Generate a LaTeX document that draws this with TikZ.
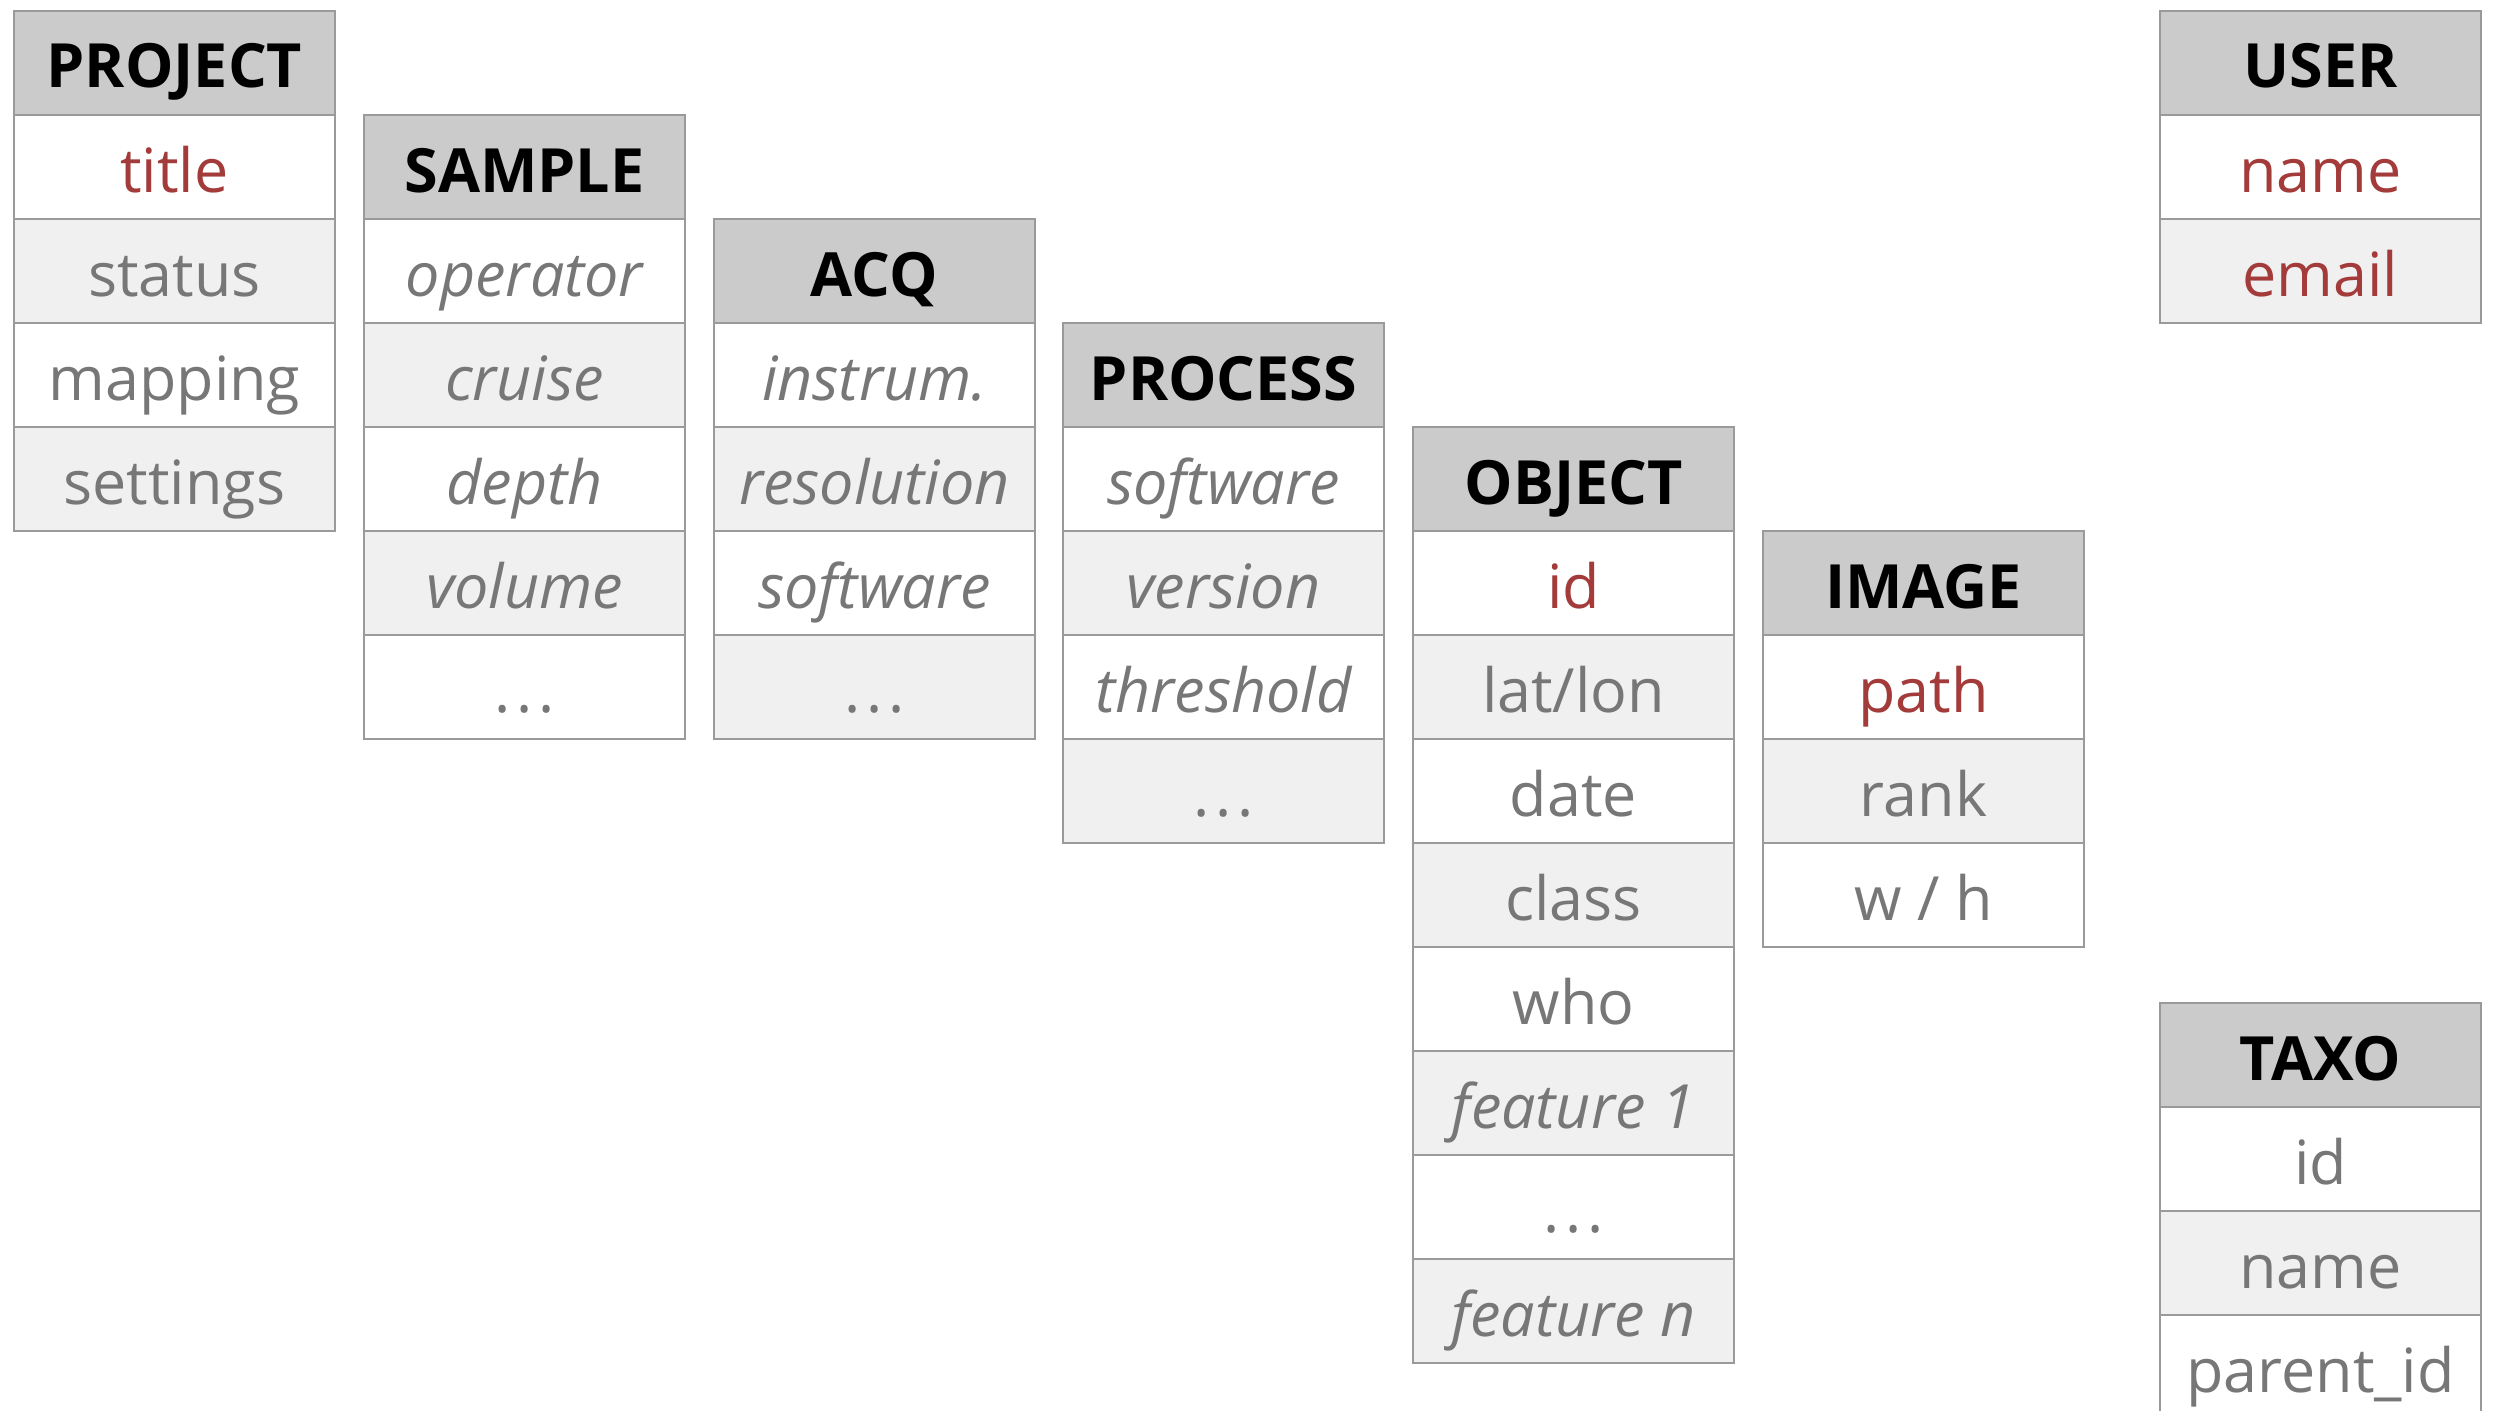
\documentclass[tikz,border=0pt]{standalone}
\usepackage{fontspec}
\setmainfont{Open Sans}
\definecolor{bordergray}{HTML}{9A9A9A}
\definecolor{hdrgray}{HTML}{CBCBCB}
\definecolor{rowgray}{HTML}{F0F0F0}
\definecolor{txtgray}{HTML}{777777}
\definecolor{keyred}{HTML}{A33B3B}
\newcommand\cellfont{\fontsize{61}{72}\selectfont}
\newcommand\morefields{.\kern0.1em.\kern0.1em.}
\tikzset{
  cell/.style={draw=bordergray, line width=2pt, minimum width=321pt, minimum height=104pt,
    inner sep=0pt, anchor=north west, font=\cellfont, text=txtgray,
    text height=62pt, text depth=12pt, align=center},
  hdr/.style={cell, fill=hdrgray, text=black, font=\cellfont\bfseries},
  pl/.style={},
  key/.style={text=keyred},
  it/.style={font=\cellfont\itshape},
}
\newcommand\erdtable[5]{%
  \node[hdr] (#1-0) at (#2,#3) {#4};
  \foreach [count=\k] \t/\s in {#5} {
    \ifodd\k \def\rf{white}\else\def\rf{rowgray}\fi
    \node[cell, fill=\rf, \s] (#1-\k) at (#2,#3+104*\k) {\t};
  }
}
\begin{document}
\begin{tikzpicture}[x=1pt,y=-1pt]
\useasboundingbox[fill=white] (0,0) rectangle (2496,1410);
\erdtable{proj}{13}{10}{PROJECT}{title/key, status/pl, mapping/pl, settings/pl}
\erdtable{sample}{363}{114}{SAMPLE}{operator/it, cruise/it, depth/it, volume/it, \morefields/pl}
\erdtable{acq}{713}{218}{ACQ}{instrum./it, resolution/it, software/it, \morefields/pl}
\erdtable{process}{1062}{322}{PROCESS}{software/it, version/it, threshold/it, \morefields/pl}
\erdtable{object}{1412}{426}{OBJECT}{id/key, {lat/lon}/pl, date/pl, class/pl, who/pl, feature 1/it, \morefields/pl, feature n/it}
\erdtable{image}{1762}{530}{IMAGE}{path/key, rank/pl, {w / h}/pl}
\erdtable{user}{2159}{10}{USER}{name/key, email/key}
\erdtable{taxo}{2159}{1002}{TAXO}{id/pl, name/pl, parent\_id/pl}
\end{tikzpicture}
\end{document}
